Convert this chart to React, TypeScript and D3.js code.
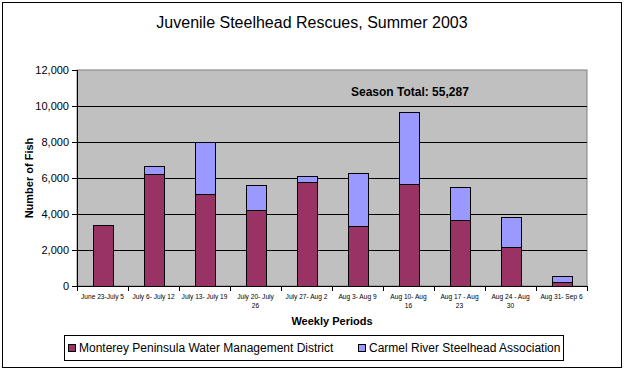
import React from 'react';
import * as d3 from 'd3';

const weeks = [
  'June 23-July 5',
  'July 6- July 12',
  'July 13- July 19',
  'July 20- July\n26',
  'July 27- Aug 2',
  'Aug 3- Aug 9',
  'Aug 10- Aug\n16',
  'Aug 17 - Aug\n23',
  'Aug 24 - Aug\n30',
  'Aug 31- Sep 6',
];
const mpwmd = [3390, 6200, 5110, 4220, 5780, 3330, 5670, 3670, 2170, 220];
const crsa = [0, 460, 2890, 1390, 330, 2950, 4000, 1830, 1660, 340];
const seriesNames = ['Monterey Peninsula Water Management District', 'Carmel River Steelhead Association'];
const seriesColors = ['#993366', '#9999FF'];
const yTicks = [0, 2000, 4000, 6000, 8000, 10000, 12000];

const W = 624;
const H = 370;
const margin = { top: 70, right: 37, bottom: 84, left: 77 };
const font = 'Arial, "Liberation Sans", sans-serif';

export default function App() {
  const ref = React.useRef<SVGSVGElement | null>(null);

  React.useEffect(() => {
    const svg = d3.select(ref.current);
    svg.selectAll('*').remove();
    const width = W - margin.left - margin.right;
    const height = H - margin.top - margin.bottom;

    svg.append('rect')
      .attr('x', 2.5).attr('y', 2.5).attr('width', W - 5).attr('height', H - 5)
      .attr('fill', 'white').attr('stroke', 'black');

    svg.append('text')
      .attr('x', W / 2).attr('y', 28)
      .attr('text-anchor', 'middle')
      .style('font-family', font).style('font-size', '16px')
      .text('Juvenile Steelhead Rescues, Summer 2003');

    const g = svg.append('g').attr('transform', `translate(${margin.left}, ${margin.top})`);

    const x = d3.scaleBand().domain(weeks).range([0, width]);
    const y = d3.scaleLinear().domain([0, 12000]).range([height, 0]);

    g.append('rect')
      .attr('width', width).attr('height', height)
      .attr('fill', '#C0C0C0').attr('stroke', '#808080');

    g.selectAll('.grid')
      .data(yTicks.filter(t => t > 0 && t < 12000))
      .enter().append('line')
      .attr('x1', 0).attr('x2', width)
      .attr('y1', d => Math.round(y(d)) + 0.5).attr('y2', d => Math.round(y(d)) + 0.5)
      .attr('stroke', 'black');

    const stacked = d3.stack<number>()
      .keys(['0', '1'])
      .value((i, key) => (key === '0' ? mpwmd[i] : crsa[i]))(weeks.map((_, i) => i));

    const bw = 20;
    stacked.forEach((layer, si) => {
      g.selectAll(`.bar${si}`)
        .data(layer.filter(d => d[1] > d[0]))
        .enter().append('rect')
        .attr('x', d => Math.round(x(weeks[d.data])! + x.bandwidth() / 2 - bw / 2) + 0.5)
        .attr('width', bw)
        .attr('y', d => Math.round(y(d[1])) + 0.5)
        .attr('height', d => Math.round(y(d[0])) - Math.round(y(d[1])))
        .attr('fill', seriesColors[si])
        .attr('stroke', 'black');
    });

    // axes
    const yAxis = g.append('g');
    yAxis.append('line').attr('x1', 0.5).attr('x2', 0.5).attr('y1', 0).attr('y2', height).attr('stroke', 'black');
    yAxis.selectAll('.yt').data(yTicks).enter().append('line')
      .attr('x1', -5).attr('x2', 0)
      .attr('y1', d => Math.round(y(d)) + 0.5).attr('y2', d => Math.round(y(d)) + 0.5)
      .attr('stroke', 'black');
    yAxis.selectAll('.yl').data(yTicks).enter().append('text')
      .attr('x', -8).attr('y', d => y(d) + 4)
      .attr('text-anchor', 'end')
      .style('font-family', font).style('font-size', '11px')
      .text(d => d3.format(',')(d));

    const xAxis = g.append('g').attr('transform', `translate(0, ${height})`);
    xAxis.append('line').attr('x1', 0).attr('x2', width).attr('y1', 0.5).attr('y2', 0.5).attr('stroke', 'black');
    xAxis.selectAll('.xt').data(d3.range(weeks.length + 1)).enter().append('line')
      .attr('x1', i => Math.round(i * x.step()) + 0.5).attr('x2', i => Math.round(i * x.step()) + 0.5)
      .attr('y1', 0).attr('y2', 5)
      .attr('stroke', 'black');
    const labels = xAxis.selectAll('.xl').data(weeks).enter().append('text')
      .attr('text-anchor', 'middle')
      .style('font-family', font).style('font-size', '6.6px');
    labels.each(function (d) {
      const t = d3.select(this);
      d.split('\n').forEach((line, li) => {
        t.append('tspan')
          .attr('x', x(d)! + x.bandwidth() / 2)
          .attr('y', 13 + li * 9)
          .text(line);
      });
    });

    g.append('text')
      .attr('x', 274).attr('y', 26)
      .style('font-family', font).style('font-size', '12px').style('font-weight', 'bold')
      .text('Season Total: 55,287');

    svg.append('text')
      .attr('x', margin.left + width / 2).attr('y', 325)
      .attr('text-anchor', 'middle')
      .style('font-family', font).style('font-size', '11px').style('font-weight', 'bold')
      .text('Weekly Periods');

    svg.append('text')
      .attr('transform', `translate(33, ${margin.top + height / 2}) rotate(-90)`)
      .attr('text-anchor', 'middle')
      .style('font-family', font).style('font-size', '11px').style('font-weight', 'bold')
      .text('Number of Fish');

    // legend
    const lg = svg.append('g');
    lg.append('rect')
      .attr('x', 64.5).attr('y', 335.5).attr('width', 499).attr('height', 25)
      .attr('fill', 'white').attr('stroke', 'black');
    const legendX = [68, 358];
    seriesNames.forEach((name, i) => {
      lg.append('rect')
        .attr('x', legendX[i] + 0.5).attr('y', 344.5).attr('width', 7).attr('height', 7)
        .attr('fill', seriesColors[i]).attr('stroke', 'black');
      lg.append('text')
        .attr('x', legendX[i] + 11).attr('y', 352)
        .style('font-family', font).style('font-size', '12px')
        .text(name);
    });
  }, []);

  return <svg ref={ref} width={W} height={H} style={{ display: 'block', position: 'absolute', left: 0, top: 0 }} />;
}
